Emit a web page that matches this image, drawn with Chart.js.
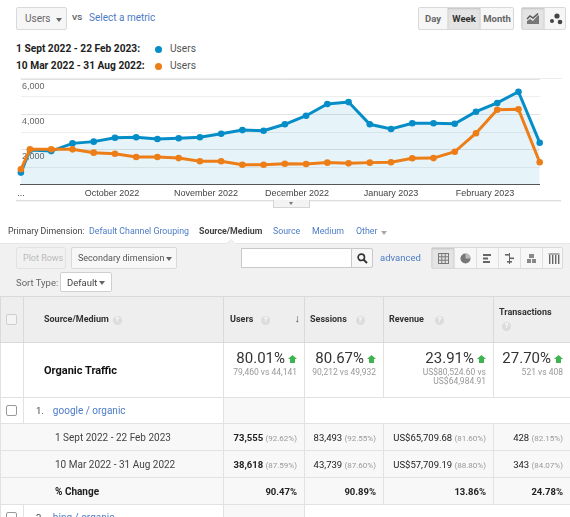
<!DOCTYPE html>
<html>
<head>
<meta charset="utf-8">
<script src="https://cdn.jsdelivr.net/npm/chart.js@4.4.0/dist/chart.umd.min.js"></script>
<style>
  body { margin:0; width:570px; height:517px; overflow:hidden; position:relative; background:#fff; font-family:Roboto, Arial, sans-serif; color:#333; }
  .abs { position:absolute; white-space:nowrap; }
  .btn { position:absolute; box-sizing:border-box; border:1px solid #d9d9d9; border-radius:2px; background:#f6f6f6; white-space:nowrap; }
  .caret { display:inline-block; width:0; height:0; border-left:3px solid transparent; border-right:3px solid transparent; border-top:4px solid #666; vertical-align:middle; }
  .link { color:#4d7cc6; }
  .seg { position:absolute; top:0; height:100%; box-sizing:border-box; border-left:1px solid #e0e0e0; display:flex; align-items:center; justify-content:center; font-size:9.5px; font-weight:bold; color:#666; }
  .seg.on { background:#e4e4e4; box-shadow:inset 0 1px 2px rgba(0,0,0,0.15); color:#333; }
  .seg:first-child { border-left:none; }
  .dot { display:inline-block; width:7px; height:7px; border-radius:50%; }
  .leg { font-size:10.2px; }
  .pd { font-size:8.8px; top:226px; }
  #report { position:absolute; left:0; top:296px; width:570px; border-collapse:collapse; table-layout:fixed; font-size:9.5px; }
  #report td { border:1px solid #e2e2e2; padding:0; vertical-align:middle; overflow:hidden; white-space:nowrap; }
  #report tr.head td { background:#eeeeee; font-weight:bold; color:#333; font-size:9px; border-color:#dadada; }
  .chk { display:inline-block; width:9px; height:9px; border:1px solid #999; border-radius:2px; background:#fff; margin-left:5px; vertical-align:middle; }
  .chk.dis { border-color:#cfcfcf; background:#f4f4f4; }
  .q { display:inline-block; width:9px; height:9px; border-radius:50%; background:#dcdcdc; color:#fff; font-size:7px; line-height:9px; text-align:center; font-weight:bold; margin-left:6px; vertical-align:middle; }
  .big { font-size:15px; color:#333; }
  .up { display:inline-block; width:9px; height:8px; background:#3fb34f; clip-path:polygon(50% 0, 100% 50%, 78% 50%, 78% 100%, 22% 100%, 22% 50%, 0 50%); margin-left:3px; }
  .sub { font-size:8.5px; color:#999; line-height:9px; }
  .num { text-align:right; padding-right:7px !important; color:#222; }
  .num b { font-weight:bold; }
  .pct { font-size:8px; color:#999; }
  .sr td { background:#f8f8f8; height:26px; }
</style>
</head>
<body>

<!-- top toolbar -->
<div class="btn" style="left:16px;top:7px;width:51px;height:23px;">
  <span class="abs" style="left:8px;top:5px;font-size:10px;color:#666;">Users</span>
  <span class="abs caret" style="left:39px;top:10px;"></span>
</div>
<span class="abs" style="left:72px;top:13px;font-size:8px;font-weight:bold;color:#666;">VS</span>
<span class="abs link" style="left:89px;top:12px;font-size:10px;">Select a metric</span>

<div class="btn" style="left:418px;top:7px;width:96px;height:23px;">
  <div class="seg" style="left:0;width:28px;">Day</div>
  <div class="seg on" style="left:28px;width:33px;">Week</div>
  <div class="seg" style="left:61px;width:33px;">Month</div>
</div>
<div class="btn" style="left:521px;top:7px;width:45px;height:23px;">
  <div class="seg on" style="left:0;width:22px;border-left:none;">
    <svg width="14" height="12" viewBox="0 0 14 12"><path d="M1 11 L1 8 L4 6 L7 8 L12 2 L13 3 L13 11 Z" fill="#777"/><path d="M1 6 L4 3 L7 5 L12 0.5" stroke="#555" stroke-width="1.4" fill="none"/></svg>
  </div>
  <div class="seg" style="left:22px;width:22px;">
    <svg width="14" height="12" viewBox="0 0 14 12"><circle cx="8" cy="3" r="2.6" fill="#444"/><circle cx="3" cy="8" r="2" fill="#444"/><circle cx="11" cy="9" r="2.3" fill="#444"/></svg>
  </div>
</div>

<!-- legend -->
<div class="abs leg" style="left:16px;top:43px;font-weight:bold;color:#222;">1 Sept 2022 - 22 Feb 2023:</div>
<span class="abs dot" style="left:155px;top:46px;background:#058dc7;"></span>
<div class="abs leg" style="left:170px;top:43px;color:#555;">Users</div>
<div class="abs leg" style="left:16px;top:60px;font-weight:bold;color:#222;">10 Mar 2022 - 31 Aug 2022:</div>
<span class="abs dot" style="left:155px;top:63px;background:#ed7e17;"></span>
<div class="abs leg" style="left:170px;top:60px;color:#555;">Users</div>

<div class="abs" style="left:20px;top:78px;width:542px;height:1px;background:#ececec;"></div>

<!-- chart -->
<canvas id="usersChart" class="abs" width="570" height="136" style="left:0;top:70px;width:570px;height:136px;"></canvas>

<div class="abs" style="left:16px;top:200px;width:545px;height:1px;background:#dcdcdc;box-shadow:0 1px 1px rgba(0,0,0,0.05);"></div>
<div class="abs" style="left:273px;top:200px;width:37px;height:8px;box-sizing:border-box;background:#f3f3f3;border:1px solid #d5d5d5;border-top:none;">
  <span class="abs" style="left:15px;top:2px;width:0;height:0;border-left:2.5px solid transparent;border-right:2.5px solid transparent;border-top:3px solid #777;"></span>
</div>

<!-- primary dimension -->
<span class="abs pd" style="left:8px;color:#444;">Primary Dimension:</span>
<span class="abs link pd" style="left:89px;">Default Channel Grouping</span>
<span class="abs pd" style="left:199px;font-weight:bold;color:#444;">Source/Medium</span>
<span class="abs link pd" style="left:273px;">Source</span>
<span class="abs link pd" style="left:312px;">Medium</span>
<span class="abs link pd" style="left:356px;">Other</span>
<span class="abs caret" style="left:381px;top:231px;border-top-color:#aaa;"></span>

<!-- toolbar band -->
<div class="abs" style="left:0;top:243px;width:570px;height:53px;background:#f1f1f1;border-top:1px solid #e6e6e6;"></div>
<div class="abs" style="left:226px;top:239px;width:0;height:0;border-left:5px solid transparent;border-right:5px solid transparent;border-bottom:5px solid #e6e6e6;"></div>
<div class="abs" style="left:227px;top:240px;width:0;height:0;border-left:4px solid transparent;border-right:4px solid transparent;border-bottom:4px solid #f1f1f1;"></div>

<div class="btn" style="left:16px;top:247px;width:50px;height:22px;background:#f1f1f1;border-color:#e2e2e2;">
  <span class="abs" style="left:6px;top:5px;font-size:9px;color:#bbb;">Plot Rows</span>
</div>
<div class="btn" style="left:71px;top:247px;width:106px;height:22px;background:#f7f7f7;">
  <span class="abs" style="left:6px;top:5px;font-size:9px;color:#555;">Secondary dimension</span>
  <span class="abs caret" style="left:94px;top:9px;"></span>
</div>
<div class="abs" style="left:241px;top:248px;width:111px;height:20px;box-sizing:border-box;background:#fff;border:1px solid #c9c9c9;"></div>
<div class="btn" style="left:351px;top:248px;width:22px;height:20px;background:#f7f7f7;border-color:#c9c9c9;">
  <svg class="abs" style="left:5px;top:4px;" width="11" height="11" viewBox="0 0 11 11"><circle cx="4.3" cy="4.3" r="3.2" stroke="#333" stroke-width="1.6" fill="none"/><path d="M6.6 6.6 L10 10" stroke="#333" stroke-width="2"/></svg>
</div>
<span class="abs link" style="left:380px;top:252px;font-size:9.5px;">advanced</span>

<div class="btn" style="left:431px;top:247px;width:132px;height:22px;background:#f7f7f7;">
  <div class="seg on" style="left:0;width:22px;">
    <svg width="11" height="11" viewBox="0 0 11 11"><g fill="none" stroke="#777" stroke-width="1"><rect x="0.5" y="0.5" width="10" height="10"/><path d="M3.8 0.5 V10.5 M7.2 0.5 V10.5 M0.5 3.8 H10.5 M0.5 7.2 H10.5"/></g></svg>
  </div>
  <div class="seg" style="left:22px;width:22px;">
    <svg width="11" height="11" viewBox="0 0 11 11"><circle cx="5.5" cy="5.5" r="5" fill="#777"/><path d="M5.5 5.5 V0.5 A5 5 0 0 1 10.5 5.5 Z" fill="#bbb"/></svg>
  </div>
  <div class="seg" style="left:44px;width:22px;">
    <svg width="11" height="11" viewBox="0 0 11 11"><g fill="#666"><rect x="1" y="1" width="8" height="2"/><rect x="1" y="4.5" width="5" height="2"/><rect x="1" y="8" width="7" height="2"/></g></svg>
  </div>
  <div class="seg" style="left:66px;width:22px;">
    <svg width="11" height="11" viewBox="0 0 11 11"><g fill="#666"><rect x="1" y="1" width="5" height="1.6"/><rect x="5" y="4.5" width="5" height="1.6"/><rect x="3" y="8" width="5" height="1.6"/><rect x="5" y="0" width="1" height="11"/></g></svg>
  </div>
  <div class="seg" style="left:88px;width:22px;">
    <svg width="11" height="11" viewBox="0 0 11 11"><g fill="#888"><rect x="3" y="1" width="5" height="4"/><rect x="1" y="6" width="4" height="4"/><rect x="6" y="6" width="4" height="4"/></g></svg>
  </div>
  <div class="seg" style="left:110px;width:22px;">
    <svg width="12" height="11" viewBox="0 0 12 11"><g fill="#666"><rect x="0.5" y="0.5" width="11" height="1"/><rect x="1" y="2" width="1.4" height="9"/><rect x="4" y="2" width="1.4" height="9"/><rect x="7" y="2" width="1.4" height="9"/><rect x="10" y="2" width="1.4" height="9"/></g></svg>
  </div>
</div>

<span class="abs" style="left:16px;top:277px;font-size:9.5px;color:#666;">Sort Type:</span>
<div class="btn" style="left:60px;top:272px;width:52px;height:20px;background:#fff;border-color:#cfcfcf;">
  <span class="abs" style="left:6px;top:4px;font-size:9.5px;color:#444;">Default</span>
  <span class="abs caret" style="left:38px;top:8px;"></span>
</div>

<!-- report table -->
<table id="report">
  <colgroup>
    <col style="width:23px"><col style="width:200px"><col style="width:81px"><col style="width:79px"><col style="width:110px"><col style="width:77px">
  </colgroup>
  <tr class="head" style="height:46px">
    <td><span class="chk dis"></span></td>
    <td style="padding-left:20px;">Source/Medium<span class="q" style="margin-left:4px;">?</span></td>
    <td style="padding-left:6px;position:relative;">Users<span class="q" style="margin-left:8px;">?</span><span style="position:absolute;right:4px;top:15px;font-size:11px;color:#555;font-weight:normal;">&#8595;</span></td>
    <td style="padding-left:5px;">Sessions<span class="q" style="margin-left:9px;">?</span></td>
    <td style="padding-left:5px;">Revenue<span class="q" style="margin-left:11px;">?</span></td>
    <td style="padding-left:5px;vertical-align:top;padding-top:10px;line-height:10px;">Transactions<br><span class="q" style="margin:5px 0 0 3px;">?</span></td>
  </tr>
  <tr style="height:55px">
    <td></td>
    <td style="padding-left:20px;font-size:11px;font-weight:bold;color:#111;">Organic Traffic</td>
    <td class="num" style="vertical-align:top;padding-top:6px;"><span class="big">80.01%</span><span class="up"></span><div class="sub" style="margin-top:1px;">79,460 vs 44,141</div></td>
    <td class="num" style="vertical-align:top;padding-top:6px;"><span class="big">80.67%</span><span class="up"></span><div class="sub" style="margin-top:1px;">90,212 vs 49,932</div></td>
    <td class="num" style="vertical-align:top;padding-top:6px;"><span class="big">23.91%</span><span class="up"></span><div class="sub" style="margin-top:1px;">US$80,524.60 vs<br>US$64,984.91</div></td>
    <td class="num" style="vertical-align:top;padding-top:6px;"><span class="big">27.70%</span><span class="up"></span><div class="sub" style="margin-top:1px;">521 vs 408</div></td>
  </tr>
  <tr style="height:26px">
    <td><span class="chk"></span></td>
    <td style="padding-left:12px;"><span style="color:#444;">1.</span><span class="link" style="margin-left:9px;font-size:10px;">google / organic</span></td>
    <td style="background:#f8f8f8;"></td>
    <td colspan="3" style="border-right:none;"></td>
  </tr>
  <tr class="sr">
    <td colspan="2" style="padding-left:54px;color:#444;font-size:10px;">1 Sept 2022 - 22 Feb 2023</td>
    <td class="num"><b>73,555</b> <span class="pct">(92.62%)</span></td>
    <td class="num">83,493 <span class="pct">(92.55%)</span></td>
    <td class="num">US$65,709.68 <span class="pct">(81.60%)</span></td>
    <td class="num">428 <span class="pct">(82.15%)</span></td>
  </tr>
  <tr class="sr">
    <td colspan="2" style="padding-left:54px;color:#444;font-size:10px;">10 Mar 2022 - 31 Aug 2022</td>
    <td class="num"><b>38,618</b> <span class="pct">(87.59%)</span></td>
    <td class="num">43,739 <span class="pct">(87.60%)</span></td>
    <td class="num">US$57,709.19 <span class="pct">(88.80%)</span></td>
    <td class="num">343 <span class="pct">(84.07%)</span></td>
  </tr>
  <tr class="sr">
    <td colspan="2" style="padding-left:54px;font-weight:bold;color:#222;font-size:10px;">% Change</td>
    <td class="num"><b>90.47%</b></td>
    <td class="num"><b>90.89%</b></td>
    <td class="num"><b>13.86%</b></td>
    <td class="num"><b>24.78%</b></td>
  </tr>
  <tr style="height:26px">
    <td><span class="chk"></span></td>
    <td style="padding-left:12px;"><span style="color:#444;">2.</span><span class="link" style="margin-left:9px;font-size:10px;">bing / organic</span></td>
    <td style="background:#f8f8f8;"></td>
    <td colspan="3" style="border-right:none;"></td>
  </tr>
</table>

<script>
// weekly users, current period vs previous period (GA week buckets)
const periodStart = '2022-09-01';
const weekStarts = ['2022-09-01','2022-09-04','2022-09-11','2022-09-18','2022-09-25','2022-10-02','2022-10-09',
  '2022-10-16','2022-10-23','2022-10-30','2022-11-06','2022-11-13','2022-11-20','2022-11-27','2022-12-04',
  '2022-12-11','2022-12-18','2022-12-25','2023-01-01','2023-01-08','2023-01-15','2023-01-22','2023-01-29',
  '2023-02-05','2023-02-12','2023-02-19'];
const currentUsers = [680,1970,1910,2350,2450,2670,2700,2600,2640,2700,2900,3110,3070,3440,3930,4600,4710,
  3440,3170,3500,3500,3470,4160,4660,5300,2390];
const previousUsers = [870,2010,2010,2010,1820,1760,1570,1570,1510,1330,1330,1130,1130,1190,1170,1250,1210,
  1250,1270,1500,1510,1870,2930,4270,4300,1270];

const monthTickDates = ['2022-09-01','2022-10-01','2022-11-01','2022-12-01','2023-01-01','2023-02-01'];
const monthLabels = ['...','October 2022','November 2022','December 2022','January 2023','February 2023'];
const yLabelTicks = [2000, 4000, 6000];
const yTickLabels = ['2,000','4,000','6,000'];

const dayOf = d => (Date.parse(d) - Date.parse(periodStart)) / 864e5;

document.addEventListener('DOMContentLoaded', () => {
  renderUsersChart();
});

function renderUsersChart() {
  const canvas = document.getElementById('usersChart');
  if (!canvas || !window.Chart) return;

  const xs = weekStarts.map(dayOf);
  const toPoints = vals => vals.map((v, i) => ({ x: xs[i], y: v }));

  new Chart(canvas, {
    type: 'line',
    data: {
      datasets: [{
        label: '10 Mar 2022 - 31 Aug 2022',
        data: toPoints(previousUsers),
        borderColor: '#ed7e17',
        backgroundColor: '#ed7e17',
        borderWidth: 3,
        pointRadius: 3.3,
        pointBorderWidth: 0,
        fill: false,
        clip: false,
        order: 0
      }, {
        label: '1 Sept 2022 - 22 Feb 2023',
        data: toPoints(currentUsers),
        borderColor: '#058dc7',
        backgroundColor: 'rgba(5,141,199,0.1)',
        pointBackgroundColor: '#058dc7',
        borderWidth: 3,
        pointRadius: 3.3,
        pointBorderWidth: 0,
        fill: 'origin',
        clip: false,
        order: 1
      }]
    },
    options: {
      responsive: false,
      animation: false,
      layout: { padding: { left: 20.9, right: 30.3, top: 9.5, bottom: 0 } },
      plugins: { legend: { display: false }, tooltip: { enabled: false } },
      scales: {
        x: {
          type: 'linear',
          min: 0,
          max: dayOf(weekStarts[weekStarts.length - 1]),
          afterFit: s => { s.height = 21.5; },
          afterBuildTicks: s => { s.ticks = monthTickDates.map(d => ({ value: dayOf(d) })); },
          grid: { display: false, drawTicks: false },
          border: { display: true, color: '#555', width: 1 },
          ticks: {
            autoSkip: false,
            maxRotation: 0,
            padding: 4,
            color: '#444',
            font: { family: 'Liberation Sans, Arial, sans-serif', size: 9 },
            callback: (v, i) => monthLabels[i]
          }
        },
        y: {
          min: 0,
          max: 6000,
          afterFit: s => { s.width = 0; },
          grid: {
            drawTicks: false,
            color: c => (c.tick && c.tick.value % 2000 === 0) ? '#e2e2e2' : '#eeeeee'
          },
          border: { display: false },
          ticks: {
            stepSize: 1000,
            mirror: true,
            padding: 1,
            labelOffset: 7,
            color: '#666',
            font: { family: 'Liberation Sans, Arial, sans-serif', size: 9 },
            callback: v => {
              const i = yLabelTicks.indexOf(v);
              return i >= 0 ? yTickLabels[i] : '';
            }
          }
        }
      }
    }
  });
}
</script>
</body>
</html>
